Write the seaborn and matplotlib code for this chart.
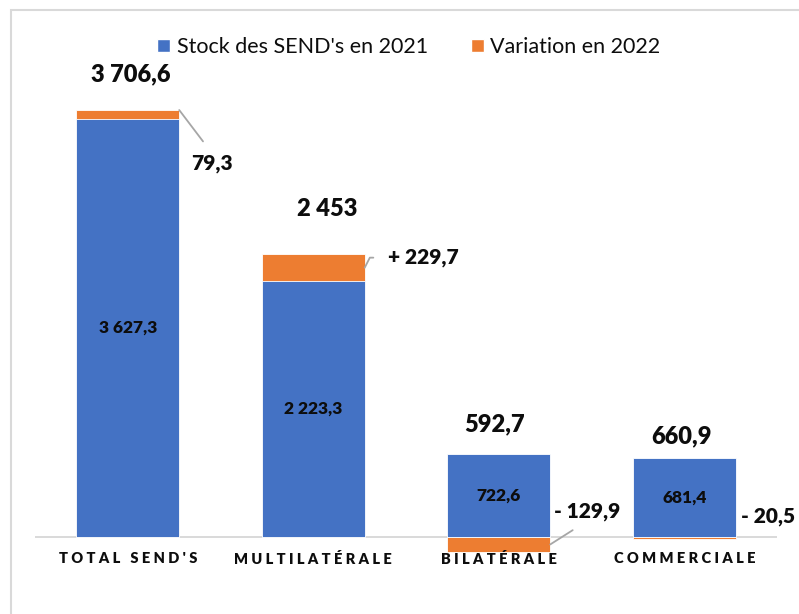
import numpy as np
import pandas as pd
import matplotlib
matplotlib.use("Agg")
import matplotlib.pyplot as plt
import seaborn as sns
from matplotlib.patches import Patch, Rectangle

# Data (milliards)
categories = ["TOTAL SEND'S", "MULTILATÉRALE", "BILATÉRALE", "COMMERCIALE"]
stock_2021 = [3627.3, 2223.3, 722.6, 681.4]
variation_2022 = [79.3, 229.7, -129.9, -20.5]
variation_prefix = ["", "+ ", "- ", "- "]
series_names = ["Stock des SEND's en 2021", "Variation en 2022"]

BLUE = "#4472C4"
ORANGE = "#ED7D31"
GRID = "#D9D9D9"
INK = "#0D0D0D"
HEAVY = "heavy"


def fr(v):
    s = f"{v:,.1f}".replace(",", " ").replace(".", ",")
    if s.endswith(",0"):
        s = s[:-2]
    return s


df = pd.DataFrame({"cat": categories, "stock": stock_2021, "var": variation_2022})
df["total"] = df["stock"] + df["var"]
# positive changes sit on top of the stock, negative ones hang below zero
df["var_bar"] = np.where(df["var"] > 0, df["total"], df["var"])

sns.set_theme(style="white")
plt.rcParams["font.family"] = ["Lato", "DejaVu Sans"]

fig = plt.figure(figsize=(7.99, 6.14), dpi=100)
ax = fig.add_axes([35 / 799, 54 / 614, 742 / 799, 500 / 614])

W = 0.555
sns.barplot(data=df, x="cat", y="var_bar", order=categories, color=ORANGE,
            saturation=1, width=W, edgecolor="white", linewidth=0.6, ax=ax,
            zorder=2)
sns.barplot(data=df, x="cat", y="stock", order=categories, color=BLUE,
            saturation=1, width=W, edgecolor="white", linewidth=0.6, ax=ax,
            zorder=3)

ax.set_xlim(-0.5, 3.5)
ax.set_ylim(-200, 4141)
ax.axhline(0, color=GRID, lw=1.4, zorder=1)
ax.set_axis_off()

# category labels, letter-spaced
for i, c in enumerate(categories):
    ax.annotate(" ".join(c), (i, 0), xytext=(0, -22), textcoords="offset pixels",
                ha="center", va="center", fontsize=10.5, fontweight=HEAVY,
                color=INK, zorder=6)

# stock values inside the blue bars
for i, s in enumerate(stock_2021):
    ax.text(i, s / 2, fr(s), ha="center", va="center", fontsize=12.5,
            fontweight=HEAVY, color=INK, zorder=6)

# totals above the bars
total_offsets = [(3, 36), (14, 45), (-4, 29), (-3, 22)]
for i, (t, s) in enumerate(zip(df["total"], stock_2021)):
    top = max(t, s)
    dx, dy = total_offsets[i]
    ax.annotate(fr(t), (i, top), xytext=(dx, dy), textcoords="offset pixels",
                ha="center", va="center", fontsize=17, fontweight=HEAVY,
                color=INK, zorder=6)

# variation labels with leader lines
lead = dict(arrowstyle="-", color="#A6A6A6", lw=1.3)
half = W / 2
v = variation_2022
txt = dict(textcoords="offset pixels", va="center", fontsize=15,
           fontweight=HEAVY, color=INK, zorder=6)
# TOTAL
ax.annotate(variation_prefix[0] + fr(abs(v[0])), (0 + half, df["total"][0]),
            xytext=(33, -53), ha="center", **txt,
            arrowprops=dict(**lead, relpos=(0.5, 1.0), shrinkA=8, shrinkB=0))
# MULTILATERALE
ax.annotate(variation_prefix[1] + fr(abs(v[1])), (1 + half, stock_2021[1] + v[1] / 2),
            xytext=(23, 10), ha="left", **txt,
            arrowprops=dict(**lead, relpos=(0.0, 0.5), shrinkA=8, shrinkB=0,
                            connectionstyle="angle,angleA=180,angleB=63,rad=0"))
# BILATERALE
ax.annotate(variation_prefix[2] + fr(abs(v[2])), (2 + half, v[2] / 2),
            xytext=(37, 33), ha="center", **txt,
            arrowprops=dict(**lead, relpos=(0.5, 0.0), shrinkA=8, shrinkB=0))
# COMMERCIALE
ax.annotate(variation_prefix[3] + fr(abs(v[3])), (3 + half, v[3]),
            xytext=(32, 23), ha="center", **txt)

handles = [Patch(facecolor=BLUE, label=series_names[0]),
           Patch(facecolor=ORANGE, label=series_names[1])]
fig.legend(handles=handles, loc="center", bbox_to_anchor=(409 / 799, 1 - 47 / 614),
           ncol=2, frameon=False, fontsize=15.5, handlelength=0.6,
           handleheight=0.6, handletextpad=0.3, columnspacing=2.0,
           borderaxespad=0, labelcolor=INK)

# chart frame
fig.add_artist(Rectangle((10.5 / 799, -0.1), 2, 1 - 9.5 / 614 + 0.1,
                         transform=fig.transFigure, fill=False,
                         edgecolor=GRID, lw=1.5))

fig.savefig("out.png", dpi=100)
